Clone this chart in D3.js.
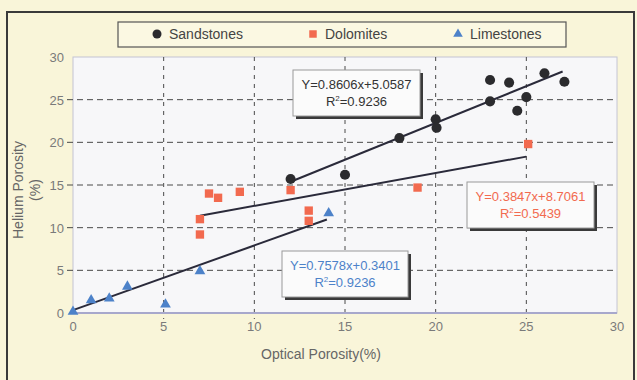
<!DOCTYPE html>
<html>
  <head>
    <meta charset="utf-8">
    <title>Helium vs optical porosity</title>
    <script src="https://d3js.org/d3.v7.min.js"></script>
    <style>
      body { margin: 0; background: #f9f5d9; }
      svg text { font-family: "Liberation Sans", Arial, sans-serif; }
    </style>
  </head>
  <body>
    <div id="chart"></div>

    <script type="text/javascript">
      // values
      var sandX = [12, 15, 18, 20, 20.05, 23, 23, 24.05, 24.5, 25, 26, 27.1];
      var sandY = [15.7, 16.2, 20.5, 22.7, 21.7, 27.3, 24.8, 27.0, 23.7, 25.3, 28.1, 27.1];

      var doloX = [7, 7, 7.5, 8, 9.2, 12, 13, 13, 19, 25.1];
      var doloY = [11.0, 9.2, 14.0, 13.5, 14.2, 14.4, 12.0, 10.8, 14.7, 19.8];

      var limeX = [0, 1, 2, 3, 5.1, 7, 14.1];
      var limeY = [0.15, 1.5, 1.7, 3.1, 1.0, 4.9, 11.7];

      var seriesNames = ['Sandstones', 'Dolomites', 'Limestones'];
      var seriesColors = ['#2b2b2e', '#f26a4f', '#4d82c9'];

      // trend lines: slope, intercept, x range
      var fitSlope = [0.8606, 0.3847, 0.7578];
      var fitIntercept = [5.0587, 8.7061, 0.3401];
      var fitFrom = [12, 7, 0];
      var fitTo = [27, 25, 14];
      var fitEq = ['Y=0.8606x+5.0587', 'Y=0.3847x+8.7061', 'Y=0.7578x+0.3401'];
      var fitR2 = ['0.9236', '0.5439', '0.9236'];

      var xTicks = [0, 5, 10, 15, 20, 25, 30];
      var yTicks = [0, 5, 10, 15, 20, 25, 30];

      var width = 637,
          height = 380;

      var svg = d3.select('#chart').append('svg')
          .attr('width', width)
          .attr('height', height);

      // outer frame
      svg.append('rect')
          .attr('x', 7).attr('y', 12)
          .attr('width', 627).attr('height', 380)
          .attr('fill', '#f9f5d9')
          .attr('stroke', '#3a3a3a')
          .attr('stroke-width', 2);

      var x = d3.scaleLinear().domain([0, 30]).range([73, 617]);
      var y = d3.scaleLinear().domain([0, 30]).range([313, 57]);

      // plot area
      svg.append('rect')
          .attr('x', x(0)).attr('y', y(30))
          .attr('width', x(30) - x(0)).attr('height', y(0) - y(30))
          .attr('fill', '#f7f7f9')
          .attr('stroke', '#c4c4d4')
          .attr('stroke-width', 1);

      // grid
      svg.append('g').selectAll('line')
          .data(yTicks.filter(function(d) { return d > 0 && d < 30; }))
          .enter().append('line')
          .attr('x1', x(0) - 6).attr('x2', x(30))
          .attr('y1', function(d) { return y(d); })
          .attr('y2', function(d) { return y(d); })
          .attr('stroke', '#4a4a4a')
          .attr('stroke-width', 1)
          .attr('stroke-dasharray', '6,4');

      svg.append('g').selectAll('line')
          .data(xTicks.filter(function(d) { return d > 0 && d < 30; }))
          .enter().append('line')
          .attr('x1', function(d) { return x(d); })
          .attr('x2', function(d) { return x(d); })
          .attr('y1', y(30)).attr('y2', y(0) + 6)
          .attr('stroke', '#4a4a4a')
          .attr('stroke-width', 1)
          .attr('stroke-dasharray', '4,5');

      // bottom axis line
      svg.append('line')
          .attr('x1', x(0)).attr('x2', x(30))
          .attr('y1', y(0)).attr('y2', y(0))
          .attr('stroke', '#a8a8cc').attr('stroke-width', 2);

      // tick labels
      svg.append('g').selectAll('text')
          .data(yTicks).enter().append('text')
          .attr('x', 64)
          .attr('y', function(d) { return y(d) + 5; })
          .attr('text-anchor', 'end')
          .attr('font-size', 13)
          .attr('fill', '#7a7a7a')
          .text(function(d) { return d; });

      svg.append('g').selectAll('text')
          .data(xTicks).enter().append('text')
          .attr('x', function(d) { return x(d); })
          .attr('y', 331)
          .attr('text-anchor', 'middle')
          .attr('font-size', 13)
          .attr('fill', '#7a7a7a')
          .text(function(d) { return d; });

      // axis titles
      svg.append('text')
          .attr('x', (x(0) + x(30)) / 2 - 24).attr('y', 359)
          .attr('text-anchor', 'middle')
          .attr('font-size', 14)
          .attr('fill', '#666')
          .text('Optical Porosity(%)');

      var yTitle = svg.append('text')
          .attr('transform', 'translate(23,190) rotate(-90)')
          .attr('text-anchor', 'middle')
          .attr('font-size', 14)
          .attr('fill', '#666');
      yTitle.append('tspan').attr('x', 0).attr('dy', 0).text('Helium Porosity');
      yTitle.append('tspan').attr('x', 0).attr('dy', 17).text('(%)');

      // trend lines
      svg.append('g').selectAll('line')
          .data(fitSlope).enter().append('line')
          .attr('x1', function(d, i) { return x(fitFrom[i]); })
          .attr('x2', function(d, i) { return x(fitTo[i]); })
          .attr('y1', function(d, i) { return y(d * fitFrom[i] + fitIntercept[i]); })
          .attr('y2', function(d, i) { return y(d * fitTo[i] + fitIntercept[i]); })
          .attr('stroke', '#2a2a3a')
          .attr('stroke-width', 2);

      // points
      var sym = [d3.symbolCircle, d3.symbolSquare, d3.symbolTriangle];
      var symSize = [80, 70, 50];
      var allX = [sandX, doloX, limeX],
          allY = [sandY, doloY, limeY];

      allX.forEach(function(xs, s) {
        svg.append('g').selectAll('path')
            .data(xs).enter().append('path')
            .attr('transform', function(d, i) {
              return 'translate(' + x(d) + ',' + y(allY[s][i]) + ')';
            })
            .attr('d', d3.symbol().type(sym[s]).size(symSize[s]))
            .attr('fill', seriesColors[s]);
      });

      // equation boxes
      var boxes = [
        {x: 293, y: 70, w: 127, h: 46},
        {x: 467, y: 182, w: 127, h: 46},
        {x: 282, y: 251, w: 126, h: 46}
      ];
      var textColors = ['#333', '#f26a4f', '#4d82c9'];
      boxes.forEach(function(b, i) {
        svg.append('rect')
            .attr('x', b.x + 3).attr('y', b.y + 3)
            .attr('width', b.w).attr('height', b.h)
            .attr('fill', '#3a3a3a');
        svg.append('rect')
            .attr('x', b.x).attr('y', b.y)
            .attr('width', b.w).attr('height', b.h)
            .attr('fill', '#fbfbfb')
            .attr('stroke', '#9a9a9a');
        svg.append('text')
            .attr('x', b.x + b.w / 2).attr('y', b.y + 19)
            .attr('text-anchor', 'middle')
            .attr('font-size', 13)
            .attr('fill', textColors[i])
            .text(fitEq[i]);
        var r = svg.append('text')
            .attr('x', b.x + b.w / 2).attr('y', b.y + 36)
            .attr('text-anchor', 'middle')
            .attr('font-size', 13)
            .attr('fill', textColors[i]);
        r.append('tspan').text('R');
        r.append('tspan').attr('font-size', 8).attr('dy', -5).text('2');
        r.append('tspan').attr('dy', 5).text('=' + fitR2[i]);
      });

      // legend
      svg.append('rect')
          .attr('x', 118).attr('y', 22)
          .attr('width', 448).attr('height', 25)
          .attr('fill', '#fbf8e2')
          .attr('stroke', '#555')
          .attr('stroke-width', 1.2);

      var legX = [157, 313, 458];
      seriesNames.forEach(function(name, i) {
        svg.append('path')
            .attr('transform', 'translate(' + legX[i] + ',34)')
            .attr('d', d3.symbol().type(sym[i]).size(symSize[i] * 0.8))
            .attr('fill', seriesColors[i]);
        svg.append('text')
            .attr('x', legX[i] + 12).attr('y', 39)
            .attr('font-size', 14)
            .attr('fill', '#444')
            .text(name);
      });
    </script>
  </body>
</html>
